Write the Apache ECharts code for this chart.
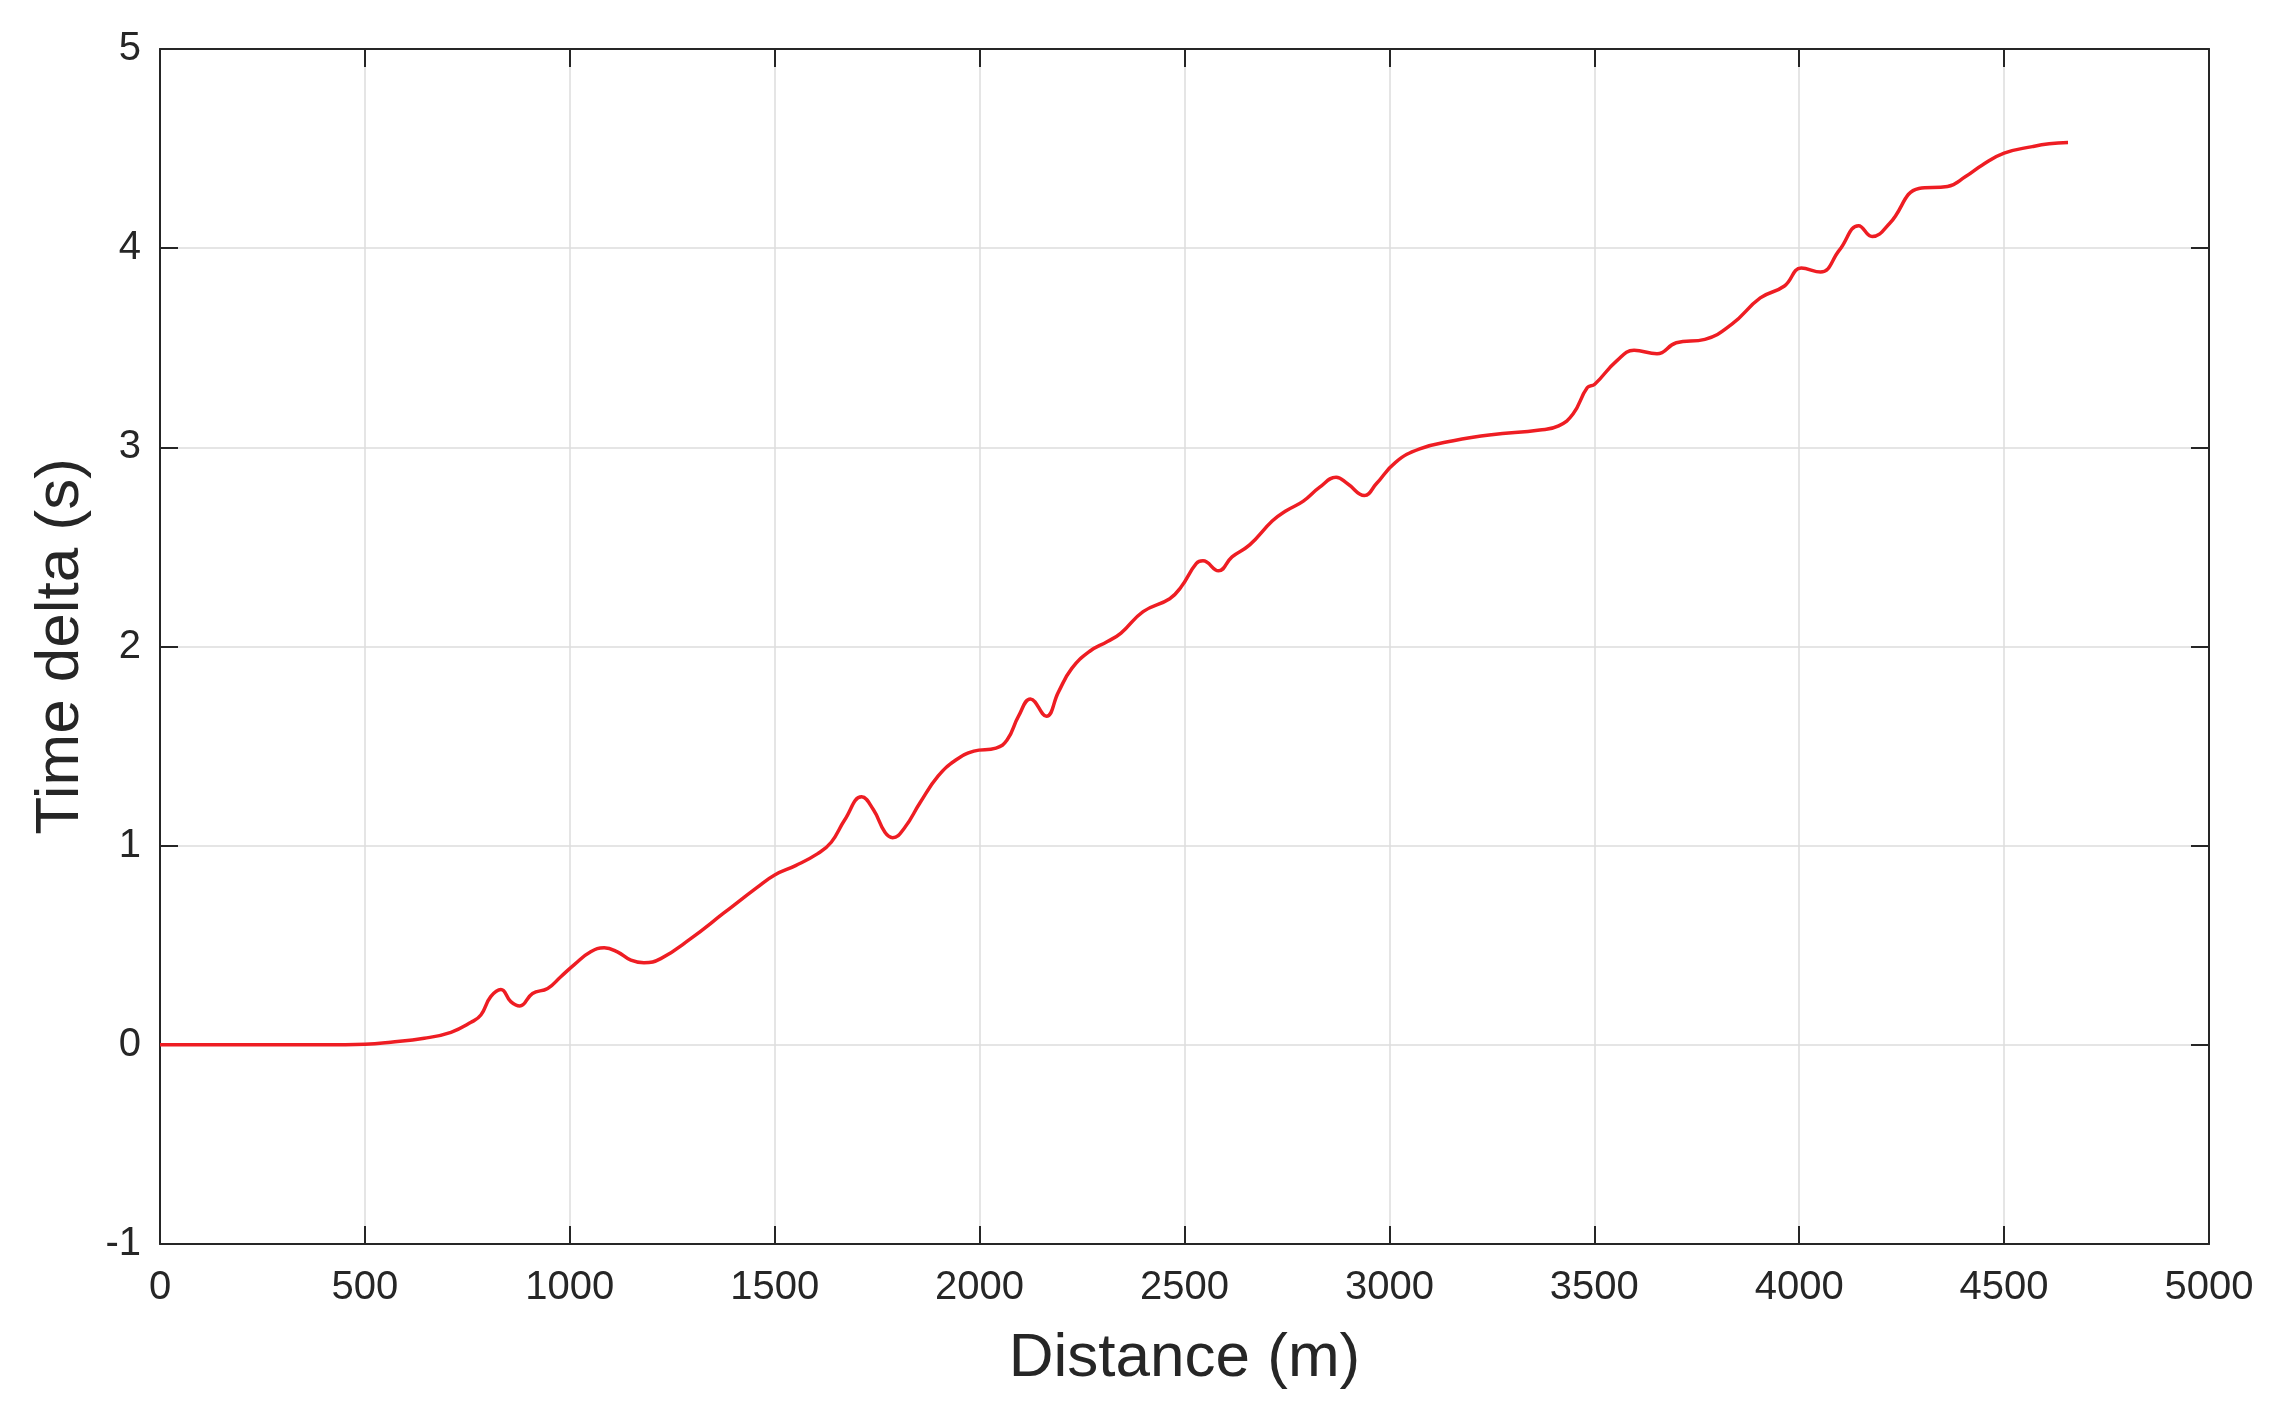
<!DOCTYPE html>
<html>
<head>
<meta charset="utf-8">
<title>Time delta vs distance</title>
<script src="https://cdn.jsdelivr.net/npm/echarts@6/dist/echarts.min.js"></script>
<style>
  html, body { margin: 0; padding: 0; background: #fff; }
  #chart { width: 2277px; height: 1415px; }
</style>
</head>
<body>
<div id="chart"></div>
<script>
// values
const distance = [
  0, 100, 200, 300, 400, 500, 563, 645, 710, 759, 783, 807, 832, 856, 878, 909, 946, 978,
  1011, 1051, 1084, 1116, 1149, 1181, 1222, 1295, 1376, 1458, 1500, 1551, 1605, 1638, 1671,
  1712, 1741, 1769, 1788, 1817, 1855, 1899, 1942, 1986, 2040, 2067, 2095, 2124, 2163, 2192,
  2225, 2268, 2312, 2345, 2399, 2464, 2492, 2529, 2545, 2583, 2616, 2659, 2714, 2747, 2790,
  2830, 2870, 2898, 2939, 2968, 3015, 3074, 3156, 3249, 3367, 3413, 3448, 3483, 3501, 3554,
  3597, 3653, 3700, 3770, 3835, 3905, 3964, 4005, 4052, 4098, 4145, 4178, 4221, 4292, 4362,
  4406, 4447, 4500, 4569, 4610, 4656
];
const timeDelta = [
  0, 0, 0, 0, 0, 0.003, 0.013, 0.033, 0.063, 0.113, 0.15, 0.242, 0.278, 0.217, 0.195, 0.258, 0.283, 0.342,
  0.403, 0.467, 0.487, 0.467, 0.425, 0.412, 0.433, 0.533, 0.662, 0.792, 0.853, 0.90, 0.96, 1.017, 1.13,
  1.245, 1.18, 1.067, 1.04, 1.09, 1.217, 1.35, 1.43, 1.475, 1.49, 1.53, 1.65, 1.737, 1.65, 1.77,
  1.89, 1.975, 2.025, 2.067, 2.175, 2.24, 2.30, 2.417, 2.43, 2.38, 2.45, 2.51, 2.63, 2.68, 2.73,
  2.80, 2.85, 2.817, 2.758, 2.817, 2.925, 2.992, 3.033, 3.063, 3.087, 3.108, 3.167, 3.30, 3.317, 3.433,
  3.487, 3.47, 3.525, 3.542, 3.617, 3.75, 3.81, 3.90, 3.88, 3.99, 4.113, 4.058, 4.125, 4.30, 4.31,
  4.36, 4.418, 4.477, 4.51, 4.524, 4.53
];
const xTicks = [0, 500, 1000, 1500, 2000, 2500, 3000, 3500, 4000, 4500, 5000];
const yTicks = [-1, 0, 1, 2, 3, 4, 5];

const FONT = 'Liberation Sans, Arial, sans-serif';
const INK = '#262626';

const chart = echarts.init(document.getElementById('chart'));

function frameAxis(extra) {
  return Object.assign({
    type: 'value',
    axisLine: { show: true, onZero: false, lineStyle: { color: INK, width: 2 } },
    axisTick: { show: true, inside: true, length: 18, lineStyle: { color: INK, width: 2 } },
    axisLabel: { show: false },
    splitLine: { show: false }
  }, extra);
}

const option = {
  animation: false,
  backgroundColor: '#fff',
  grid: { left: 160, right: 68, top: 49, bottom: 171 },
  xAxis: [
    frameAxis({
      position: 'bottom',
      min: xTicks[0], max: xTicks[xTicks.length - 1], interval: xTicks[1] - xTicks[0],
      name: 'Distance (m)',
      nameLocation: 'middle',
      nameGap: 84,
      nameTextStyle: { fontFamily: FONT, fontSize: 62, color: INK },
      axisLabel: { show: true, margin: 24, fontFamily: FONT, fontSize: 40, color: INK,
        formatter: v => String(v) },
      splitLine: { show: true, lineStyle: { color: '#dcdcdc', width: 1.5 } }
    }),
    frameAxis({
      position: 'top',
      min: xTicks[0], max: xTicks[xTicks.length - 1], interval: xTicks[1] - xTicks[0]
    })
  ],
  yAxis: [
    frameAxis({
      position: 'left',
      min: yTicks[0], max: yTicks[yTicks.length - 1], interval: yTicks[1] - yTicks[0],
      name: 'Time delta (s)',
      nameLocation: 'middle',
      nameGap: 68,
      nameTextStyle: { fontFamily: FONT, fontSize: 62, color: INK },
      axisLabel: { show: true, margin: 19, fontFamily: FONT, fontSize: 40, color: INK,
        formatter: v => String(v) },
      splitLine: { show: true, lineStyle: { color: '#dcdcdc', width: 1.5 } }
    }),
    frameAxis({
      position: 'right',
      min: yTicks[0], max: yTicks[yTicks.length - 1], interval: yTicks[1] - yTicks[0]
    })
  ],
  series: [{
    type: 'line',
    xAxisIndex: 0,
    yAxisIndex: 0,
    data: distance.map((d, i) => [d, timeDelta[i]]),
    showSymbol: false,
    smooth: 0.45,
    lineStyle: { color: '#ee1d23', width: 3.5 }
  }]
};

chart.setOption(option);
</script>
</body>
</html>
